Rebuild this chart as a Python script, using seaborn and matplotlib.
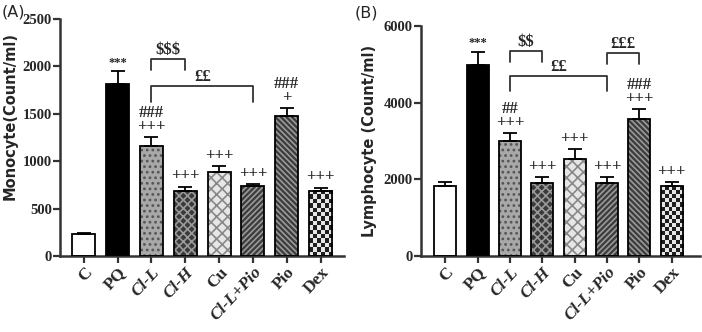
import numpy as np
import pandas as pd
import seaborn as sns
import matplotlib.pyplot as plt
from matplotlib.patches import Rectangle

groups = ["C", "PQ", "Cl-L", "Cl-H", "Cu", "Cl-L+Pio", "Pio", "Dex"]

mono_mean = [230, 1810, 1160, 690, 890, 740, 1480, 690]
mono_err = [15, 140, 90, 40, 60, 20, 80, 30]
mono_marks = ["", "***", "###\n+++", "+++", "+++", "+++", "###\n+", "+++"]

lymph_mean = [1820, 4980, 3000, 1900, 2540, 1900, 3580, 1820]
lymph_err = [100, 350, 200, 160, 250, 150, 250, 100]
lymph_marks = ["", "***", "##\n+++", "+++", "+++", "+++", "###\n+++", "+++"]

# brackets: (start idx, end idx, bar height, leg bottom, label)
mono_brackets = [(2, 3, 2080, 1960, "$$$"), (2, 5, 1790, 1625, "££")]
lymph_brackets = [(2, 3, 5350, 5070, "$$"), (2, 5, 4700, 4310, "££"), (5, 6, 5300, 5010, "£££")]

faces = ["white", "black", "#a8a8a8", "#3a3a3a", "#e6e6e6", "#3c3c3c", "#3c3c3c", "#e8e8e8"]
hatches = ["", "", "...", "xxxx", "xxx", "//////", "\\\\\\\\\\\\", ""]
hcolors = ["black", "black", "#555555", "#9a9a9a", "#888888", "#9a9a9a", "#9a9a9a", "#333333"]

sns.set_style("ticks")
plt.rcParams["hatch.linewidth"] = 1.2
plt.rcParams["text.parse_math"] = False
serif = "Liberation Serif"


def draw_panel(ax, means, errs, marks, brackets, ymax, yticks, ylabel, step, xlim, label_xy):
    df = pd.DataFrame({"group": groups, "value": means})
    sns.barplot(data=df, x="group", y="value", ax=ax, color="white", width=0.68,
                errorbar=None, saturation=1)
    for i, p in enumerate(list(ax.patches)):
        p.set_facecolor(faces[i])
        p.set_hatch(hatches[i])
        p.set_edgecolor(hcolors[i])
        p.set_linewidth(0)
        if groups[i] == "Dex":
            # checkerboard fill
            nx, ny = 6, int(round(p.get_height() / step * 230 / 4.2))
            board = (np.add.outer(np.arange(ny), np.arange(nx)) % 2).astype(float)
            ax.imshow(board, cmap="Greys", vmin=-0.25, vmax=1.15, aspect="auto",
                      interpolation="nearest", zorder=2,
                      extent=(p.get_x(), p.get_x() + p.get_width(), 0, p.get_height()))
        ax.add_patch(Rectangle(p.get_xy(), p.get_width(), p.get_height(), fill=False,
                               edgecolor="black", lw=1.3, zorder=3))
    x = np.arange(len(groups))
    ax.errorbar(x, means, yerr=[np.zeros(len(errs)), errs], fmt="none", ecolor="black",
                elinewidth=1.3, capsize=5, capthick=1.3, zorder=4)
    for i, m in enumerate(marks):
        if not m:
            continue
        fs = 9 if m == "***" else 12
        ax.text(x[i], means[i] + errs[i] + step * 0.01, m, ha="center", va="bottom",
                fontsize=fs, fontweight="bold", family=serif, linespacing=0.8)
    for a, b, h, lo, lab in brackets:
        ax.plot([a, a, b, b], [lo, h, h, lo], color="#333333", lw=1.3, clip_on=False)
        ax.text((a + b) / 2, h + step * 0.005, lab, ha="center", va="bottom", fontsize=12,
                fontweight="bold", family=serif)
    ax.set_ylim(0, ymax)
    ax.set_xlim(*xlim)
    ax.set_yticks(yticks)
    ax.set_yticklabels([str(t) for t in yticks], fontweight="bold", family=serif, fontsize=10.5)
    ax.set_xticks(x)
    labs = ax.set_xticklabels(groups, rotation=47, ha="right", rotation_mode="anchor",
                              fontweight="bold", family=serif, fontsize=12.5)
    for t in labs:
        if t.get_text().startswith("Cl"):
            t.set_style("italic")
    ax.set_xlabel("")
    ax.set_ylabel(ylabel, fontweight="bold", fontsize=10.5, family="DejaVu Sans")
    ax.yaxis.set_label_coords(*label_xy)
    for s in ["left", "bottom"]:
        ax.spines[s].set_linewidth(1.8)
        ax.spines[s].set_color("#333333")
    sns.despine(ax=ax)
    ax.tick_params(width=1.6, length=5, color="#333333", pad=1)


fig = plt.figure(figsize=(7.02, 3.32), dpi=100)
ax1 = fig.add_axes([0.0855, 0.229, 0.405, 0.714])
ax2 = fig.add_axes([0.600, 0.229, 0.397, 0.693])

draw_panel(ax1, mono_mean, mono_err, mono_marks, mono_brackets, 2500,
           [0, 500, 1000, 1500, 2000, 2500], "Monocyte(Count/ml)", 2500, (-0.7, 7.7),
           (-0.148, 0.59))
draw_panel(ax2, lymph_mean, lymph_err, lymph_marks, lymph_brackets, 6000,
           [0, 2000, 4000, 6000], "Lymphocyte (Count/ml)", 6000, (-0.74, 7.87),
           (-0.16, 0.5))

fig.text(0.003, 0.965, "(A)", fontsize=11.5, va="center")
fig.text(0.505, 0.962, "(B)", fontsize=11.5, va="center")

fig.savefig("out.png", dpi=100)
